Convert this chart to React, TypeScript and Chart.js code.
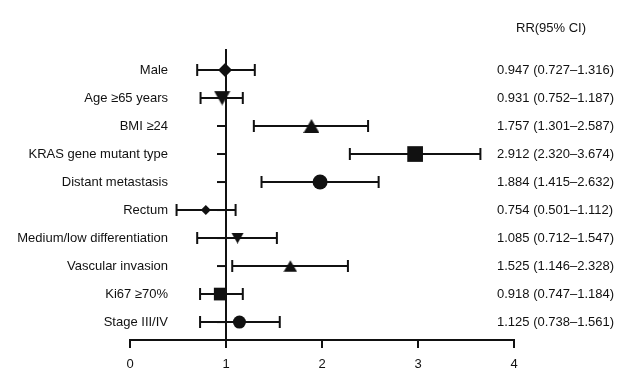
import React, { useEffect, useRef } from 'react';
import { Chart, registerables, LinearScale } from 'chart.js';

Chart.register(...registerables);

// A linear scale whose tick labels are not clipped to the axis box
class FreeLabelLinearScale extends (LinearScale as any) {
  static id = 'freeLabelLinear';
  static defaults = (LinearScale as any).defaults;
  _computeLabelArea() {
    return undefined;
  }
}
Chart.register(FreeLabelLinearScale as any);

// ---- Data ----
const categories = [
  'Male',
  'Age ≥65 years',
  'BMI ≥24',
  'KRAS gene mutant type',
  'Distant metastasis',
  'Rectum',
  'Medium/low differentiation',
  'Vascular invasion',
  'Ki67 ≥70%',
  'Stage III/IV',
];

// plotted point estimates (as drawn)
const rrPoint = [0.99, 0.96, 1.89, 2.97, 1.98, 0.79, 1.12, 1.67, 0.94, 1.14];
// plotted confidence interval ends (as drawn)
const ciLow = [0.7, 0.735, 1.29, 2.29, 1.37, 0.485, 0.7, 1.065, 0.73, 0.73];
const ciHigh = [1.3, 1.175, 2.48, 3.65, 2.59, 1.1, 1.53, 2.27, 1.175, 1.56];

// text column
const rrLabels = [
  '0.947 (0.727–1.316)',
  '0.931 (0.752–1.187)',
  '1.757 (1.301–2.587)',
  '2.912 (2.320–3.674)',
  '1.884 (1.415–2.632)',
  '0.754 (0.501–1.112)',
  '1.085 (0.712–1.547)',
  '1.525 (1.146–2.328)',
  '0.918 (0.747–1.184)',
  '1.125 (0.738–1.561)',
];
const headerText = 'RR(95% CI)';
const xTicks = [0, 1, 2, 3, 4];
const refValue = 1;

// ---- Styles ----
const markerShapes = ['diamond', 'invTriangle', 'triangle', 'square', 'circle', 'diamond', 'invTriangle', 'triangle', 'square', 'circle'];
const markerSizes = [7, 16.5, 16, 11.1, 7.5, 5, 12.5, 13.5, 9, 6.5];

const FONT = "'Liberation Sans', Arial, Helvetica, sans-serif";
const INK = '#111111';

function makeTriangle(width: number, inverted: boolean): HTMLCanvasElement {
  const h = width * 0.866;
  const c = document.createElement('canvas');
  c.width = Math.ceil(width);
  c.height = Math.ceil(h);
  const ctx = c.getContext('2d')!;
  const ox = (c.width - width) / 2;
  const oy = (c.height - h) / 2;
  ctx.fillStyle = INK;
  ctx.beginPath();
  if (inverted) {
    ctx.moveTo(ox, oy);
    ctx.lineTo(ox + width, oy);
    ctx.lineTo(ox + width / 2, oy + h);
  } else {
    ctx.moveTo(ox + width / 2, oy);
    ctx.lineTo(ox + width, oy + h);
    ctx.lineTo(ox, oy + h);
  }
  ctx.closePath();
  ctx.fill();
  return c;
}

export default function App() {
  const ref = useRef<HTMLCanvasElement>(null);

  useEffect(() => {
    document.body.style.margin = '0';
    const canvas = ref.current;
    if (!canvas) return;

    Chart.defaults.font.family = FONT;
    Chart.defaults.font.size = 13;
    Chart.defaults.color = INK;

    const pointStyles = markerShapes.map((s, i) => {
      if (s === 'triangle') return makeTriangle(markerSizes[i], false);
      if (s === 'invTriangle') return makeTriangle(markerSizes[i], true);
      if (s === 'diamond') return 'rectRot';
      if (s === 'square') return 'rect';
      return 'circle';
    });
    const radii = markerShapes.map((s, i) => (s.toLowerCase().includes('triangle') ? 1 : markerSizes[i]));

    const forestPlugin = {
      id: 'forestBars',
      beforeDatasetsDraw(chart: any) {
        const { ctx, chartArea, scales } = chart;
        const xs = scales.x;
        const ys = scales.y;
        ctx.save();
        ctx.strokeStyle = INK;
        ctx.lineWidth = 2;
        ctx.lineCap = 'butt';
        const x1 = xs.getPixelForValue(refValue);
        ctx.beginPath();
        ctx.moveTo(x1, chartArea.top);
        ctx.lineTo(x1, chartArea.bottom);
        ctx.stroke();
        categories.forEach((_, i) => {
          const py = ys.getPixelForValue(i);
          ctx.beginPath();
          ctx.moveTo(x1 - 9, py);
          ctx.lineTo(x1, py);
          ctx.stroke();
          const xl = xs.getPixelForValue(ciLow[i]);
          const xh = xs.getPixelForValue(ciHigh[i]);
          ctx.beginPath();
          ctx.moveTo(xl, py);
          ctx.lineTo(xh, py);
          ctx.moveTo(xl, py - 6);
          ctx.lineTo(xl, py + 6);
          ctx.moveTo(xh, py - 6);
          ctx.lineTo(xh, py + 6);
          ctx.stroke();
        });
        ctx.restore();
      },
      afterDraw(chart: any) {
        const { ctx, chartArea } = chart;
        ctx.save();
        ctx.fillStyle = INK;
        ctx.font = `13px ${FONT}`;
        ctx.textAlign = 'left';
        ctx.textBaseline = 'middle';
        ctx.fillText(headerText, chartArea.right + 2, chartArea.top - 21);
        ctx.restore();
      },
    };

    const chart = new Chart(canvas, {
      type: 'scatter',
      data: {
        datasets: [
          {
            data: rrPoint.map((v, i) => ({ x: v, y: i })),
            backgroundColor: INK,
            borderColor: INK,
            borderWidth: 0,
            pointStyle: pointStyles as any,
            pointRadius: radii,
            pointHoverRadius: radii,
          },
        ],
      },
      options: {
        responsive: false,
        animation: false,
        events: [],
        layout: { padding: { top: 49, left: 0, right: 0, bottom: 0 } },
        plugins: {
          legend: { display: false },
          tooltip: { enabled: false },
          title: { display: false },
        },
        scales: {
          x: {
            type: 'linear',
            position: 'bottom',
            min: 0,
            max: 4,
            afterBuildTicks: (s: any) => {
              s.ticks = xTicks.map((v) => ({ value: v }));
            },
            ticks: { color: INK, padding: 9, maxRotation: 0, autoSkip: false },
            grid: {
              drawOnChartArea: false,
              drawTicks: true,
              tickLength: 8,
              color: INK,
              lineWidth: 2,
              tickWidth: 2,
            },
            border: { display: true, color: INK, width: 2 },
            afterFit: (s: any) => {
              s.height = 34;
            },
          },
          y: {
            type: 'freeLabelLinear',
            position: 'left',
            min: -0.75,
            max: 9.64,
            reverse: true,
            afterBuildTicks: (s: any) => {
              s.ticks = categories.map((_, i) => ({ value: i }));
            },
            ticks: {
              autoSkip: false,
              padding: -38,
              color: INK,
              callback: (v: any) => categories[v] ?? '',
            },
            grid: { display: false, drawTicks: false },
            border: { display: false },
            afterFit: (s: any) => {
              s.width = 130;
            },
          },
          y2: {
            type: 'freeLabelLinear',
            position: 'right',
            min: -0.75,
            max: 9.64,
            reverse: true,
            afterBuildTicks: (s: any) => {
              s.ticks = rrLabels.map((_, i) => ({ value: i }));
            },
            ticks: {
              autoSkip: false,
              padding: -17,
              color: INK,
              callback: (v: any) => rrLabels[v] ?? '',
            },
            grid: { display: false, drawTicks: false },
            border: { display: false },
            afterFit: (s: any) => {
              s.width = 114;
            },
          },
        },
      } as any,
      plugins: [forestPlugin],
    });

    return () => chart.destroy();
  }, []);

  return (
    <div style={{ width: 628, height: 374, background: '#ffffff' }}>
      <canvas ref={ref} width={628} height={374} style={{ display: 'block' }} />
    </div>
  );
}
